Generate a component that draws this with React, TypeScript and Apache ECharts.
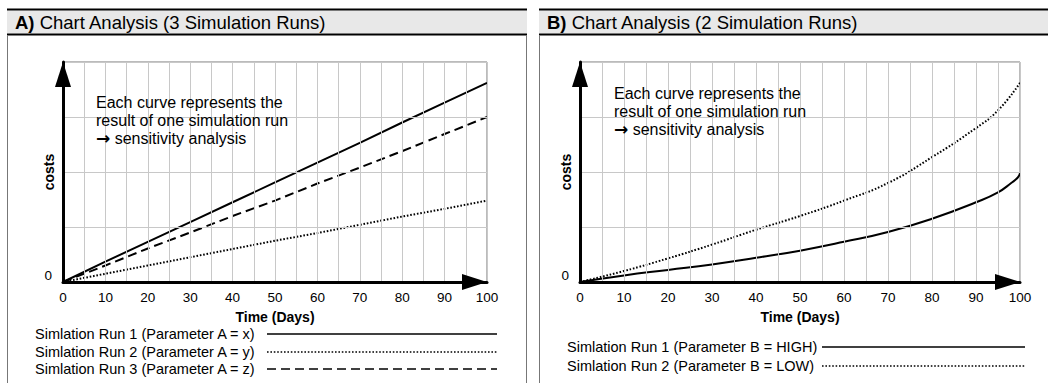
import React, { useEffect, useRef } from "react";
import * as echarts from "echarts";

// ---------- data ----------
const xTicks = [0, 10, 20, 30, 40, 50, 60, 70, 80, 90, 100];

const daysA = [0, 10, 20, 30, 40, 50, 60, 70, 80, 90, 100];
const runA1 = [0, 0.37, 0.73, 1.09, 1.45, 1.81, 2.17, 2.53, 2.9, 3.26, 3.62];
const runA2 = [0, 0.15, 0.3, 0.45, 0.6, 0.75, 0.89, 1.04, 1.19, 1.33, 1.48];
const runA3 = [0, 0.3, 0.61, 0.9, 1.2, 1.48, 1.79, 2.08, 2.38, 2.69, 3.0];

const daysB1 = [0, 10, 20, 30, 40, 50, 60, 70, 80, 90, 95, 98, 99.5, 100];
const runB1 = [0, 0.12, 0.22, 0.32, 0.44, 0.57, 0.73, 0.91, 1.15, 1.45, 1.63, 1.8, 1.9, 1.98];
const daysB2 = [0, 10, 20, 30, 40, 50, 60, 70, 80, 90, 95, 100];
const runB2 = [0, 0.2, 0.43, 0.68, 0.95, 1.2, 1.48, 1.8, 2.27, 2.8, 3.12, 3.62];

const titleA = "Chart Analysis (3 Simulation Runs)";
const titleB = "Chart Analysis (2 Simulation Runs)";
const noteLines = ["Each curve represents the", "result of one simulation run", "{a|\u2192} sensitivity analysis"];
const legendA = [
  "Simlation Run 1 (Parameter A = x)",
  "Simlation Run 2 (Parameter A = y)",
  "Simlation Run 3 (Parameter A = z)",
];
const legendB = ["Simlation Run 1 (Parameter B = HIGH)", "Simlation Run 2 (Parameter B = LOW)"];

const FONT = "'Liberation Sans', Arial, Helvetica, sans-serif";
const SOLID: any = { type: "solid", width: 2, color: "#000" };
const DOTTED: any = { type: [1.6, 1.8], width: 2, color: "#000" };
const DASHED: any = { type: [9, 5], width: 2, color: "#000" };

const zip = (xs: number[], ys: number[]) => xs.map((x, i) => [x, ys[i]]);

function xAxisCfg(gridIndex: number) {
  return {
    type: "value",
    gridIndex,
    min: 0,
    max: 100,
    interval: 10,
    name: "Time (Days)",
    nameLocation: "middle",
    nameGap: 28,
    nameMoveOverlap: false,
    nameTextStyle: { fontFamily: FONT, fontSize: 14, fontWeight: "bold", color: "#000" },
    axisLine: {
      show: true,
      symbol: ["none", "triangle"],
      symbolSize: [16, 25],
      symbolOffset: [0, -12.5],
      lineStyle: { color: "#000", width: 3 },
    },
    axisTick: { show: false },
    axisLabel: {
      fontFamily: FONT,
      fontSize: 13.5,
      color: "#000",
      margin: 8,
      formatter: (v: number) => (xTicks.includes(v) ? String(v) : ""),
    },
    splitLine: { show: true, lineStyle: { color: "#c8c8c8", width: 1 } },
    minorTick: { show: false, splitNumber: 2 },
    minorSplitLine: { show: true, lineStyle: { color: "#c8c8c8", width: 1 } },
    z: 5,
  };
}

function yAxisCfg(gridIndex: number) {
  return {
    type: "value",
    gridIndex,
    min: 0,
    max: 4,
    interval: 1,
    name: "costs",
    nameLocation: "middle",
    nameGap: 7,
    nameMoveOverlap: false,
    nameTextStyle: { fontFamily: FONT, fontSize: 14, fontWeight: "bold", color: "#000" },
    axisLine: {
      show: true,
      symbol: ["none", "triangle"],
      symbolSize: [16, 25],
      symbolOffset: [0, -12.5],
      lineStyle: { color: "#000", width: 3 },
    },
    axisTick: { show: false },
    axisLabel: {
      fontFamily: FONT,
      fontSize: 13.5,
      color: "#000",
      margin: 11,
      verticalAlign: "bottom",
      formatter: (v: number) => (v === 0 ? "0" : ""),
    },
    splitLine: { show: true, lineStyle: { color: "#c8c8c8", width: 1 } },
    z: 5,
  };
}

function panelGraphics(x0: number, x1: number, label: string, title: string, withRightLine: boolean) {
  const els: any[] = [
    { type: "rect", shape: { x: x0, y: 10.5, width: x1 - x0, height: 23 }, style: { fill: "#e8e8e8" }, z: 1 },
    { type: "line", shape: { x1: x0, y1: 9.5, x2: x1, y2: 9.5 }, style: { stroke: "#000", lineWidth: 2 }, z: 2 },
    { type: "line", shape: { x1: x0, y1: 34.5, x2: x1, y2: 34.5 }, style: { stroke: "#000", lineWidth: 2 }, z: 2 },
    { type: "line", shape: { x1: x0 + 0.5, y1: 35, x2: x0 + 0.5, y2: 383 }, style: { stroke: "#777", lineWidth: 1 }, z: 2 },
    {
      type: "text",
      x: x0 + 8,
      y: 22.5,
      style: {
        text: "{b|" + label + "} " + title,
        fontFamily: FONT,
        fontSize: 18.5,
        fill: "#000",
        verticalAlign: "middle",
        rich: { b: { fontWeight: "bold", fontSize: 18.5, fontFamily: FONT, fill: "#000" } },
      },
      z: 3,
    },
  ];
  if (withRightLine) {
    els.push({ type: "line", shape: { x1: x1 - 0.5, y1: 35, x2: x1 - 0.5, y2: 383 }, style: { stroke: "#777", lineWidth: 1 }, z: 2 });
  }
  return els;
}

function noteGraphics(x: number, y: number) {
  return noteLines.map((t, i) => ({
    type: "text",
    x,
    y: y + i * 18,
    style: {
      text: t,
      fontFamily: FONT,
      fontSize: 16,
      fill: "#000",
      verticalAlign: "middle",
      rich: { a: { fontFamily: "'DejaVu Sans', sans-serif", fontSize: 17, fontWeight: "bold", fill: "#000" } },
    },
    z: 10,
  }));
}

function legendGraphics(names: string[], styles: any[], tx: number, ys: number[], lx1: number, lx2: number) {
  const els: any[] = [];
  names.forEach((n, i) => {
    els.push({
      type: "text",
      x: tx,
      y: ys[i],
      style: { text: n, fontFamily: FONT, fontSize: 14.5, fill: "#000", verticalAlign: "middle" },
      z: 10,
    });
    const st = styles[i];
    els.push({
      type: "line",
      shape: { x1: lx1, y1: ys[i], x2: lx2, y2: ys[i] },
      style: {
        stroke: "#000",
        lineWidth: 1.6,
        lineDash: Array.isArray(st.type) ? st.type : null,
      },
      z: 10,
    });
  });
  return els;
}

export default function App() {
  const ref = useRef<HTMLDivElement>(null);
  useEffect(() => {
    if (!ref.current) return;
    const chart = echarts.init(ref.current, null, { renderer: "svg" });
    const option: any = {
      animation: false,
      backgroundColor: "#fff",
      textStyle: { fontFamily: FONT },
      grid: [
        { left: 63, top: 62, width: 424, height: 220, show: true, borderColor: "#777", borderWidth: 1, containLabel: false },
        { left: 580, top: 62, width: 440, height: 220, show: true, borderColor: "#777", borderWidth: 1, containLabel: false },
      ],
      xAxis: [xAxisCfg(0), xAxisCfg(1)],
      yAxis: [yAxisCfg(0), yAxisCfg(1)],
      series: [
        { name: legendA[0], type: "line", xAxisIndex: 0, yAxisIndex: 0, data: zip(daysA, runA1), symbol: "none", lineStyle: SOLID, z: 3 },
        { name: legendA[1], type: "line", xAxisIndex: 0, yAxisIndex: 0, data: zip(daysA, runA2), symbol: "none", lineStyle: DOTTED, z: 3 },
        { name: legendA[2], type: "line", xAxisIndex: 0, yAxisIndex: 0, data: zip(daysA, runA3), symbol: "none", lineStyle: DASHED, z: 3 },
        {
          name: legendB[0], type: "line", xAxisIndex: 1, yAxisIndex: 1, data: zip(daysB1, runB1), symbol: "none",
          smooth: 0.5, lineStyle: SOLID, z: 3,
        },
        {
          name: legendB[1], type: "line", xAxisIndex: 1, yAxisIndex: 1, data: zip(daysB2, runB2), symbol: "none",
          smooth: 0.5, lineStyle: DOTTED, z: 3,
        },
      ],
      graphic: [
        ...panelGraphics(7, 527, "A)", titleA, true),
        ...panelGraphics(539, 1048, "B)", titleB, false),
        ...noteGraphics(96, 102),
        ...noteGraphics(614, 93),
        ...legendGraphics(legendA, [SOLID, DOTTED, DASHED], 35, [334, 352, 369], 267, 497),
        ...legendGraphics(legendB, [SOLID, DOTTED], 567, [347, 366], 822, 1025),
      ],
    };
    chart.setOption(option);
    return () => chart.dispose();
  }, []);
  return <div ref={ref} style={{ position: "absolute", left: 0, top: 0, width: 1048, height: 383 }} />;
}
